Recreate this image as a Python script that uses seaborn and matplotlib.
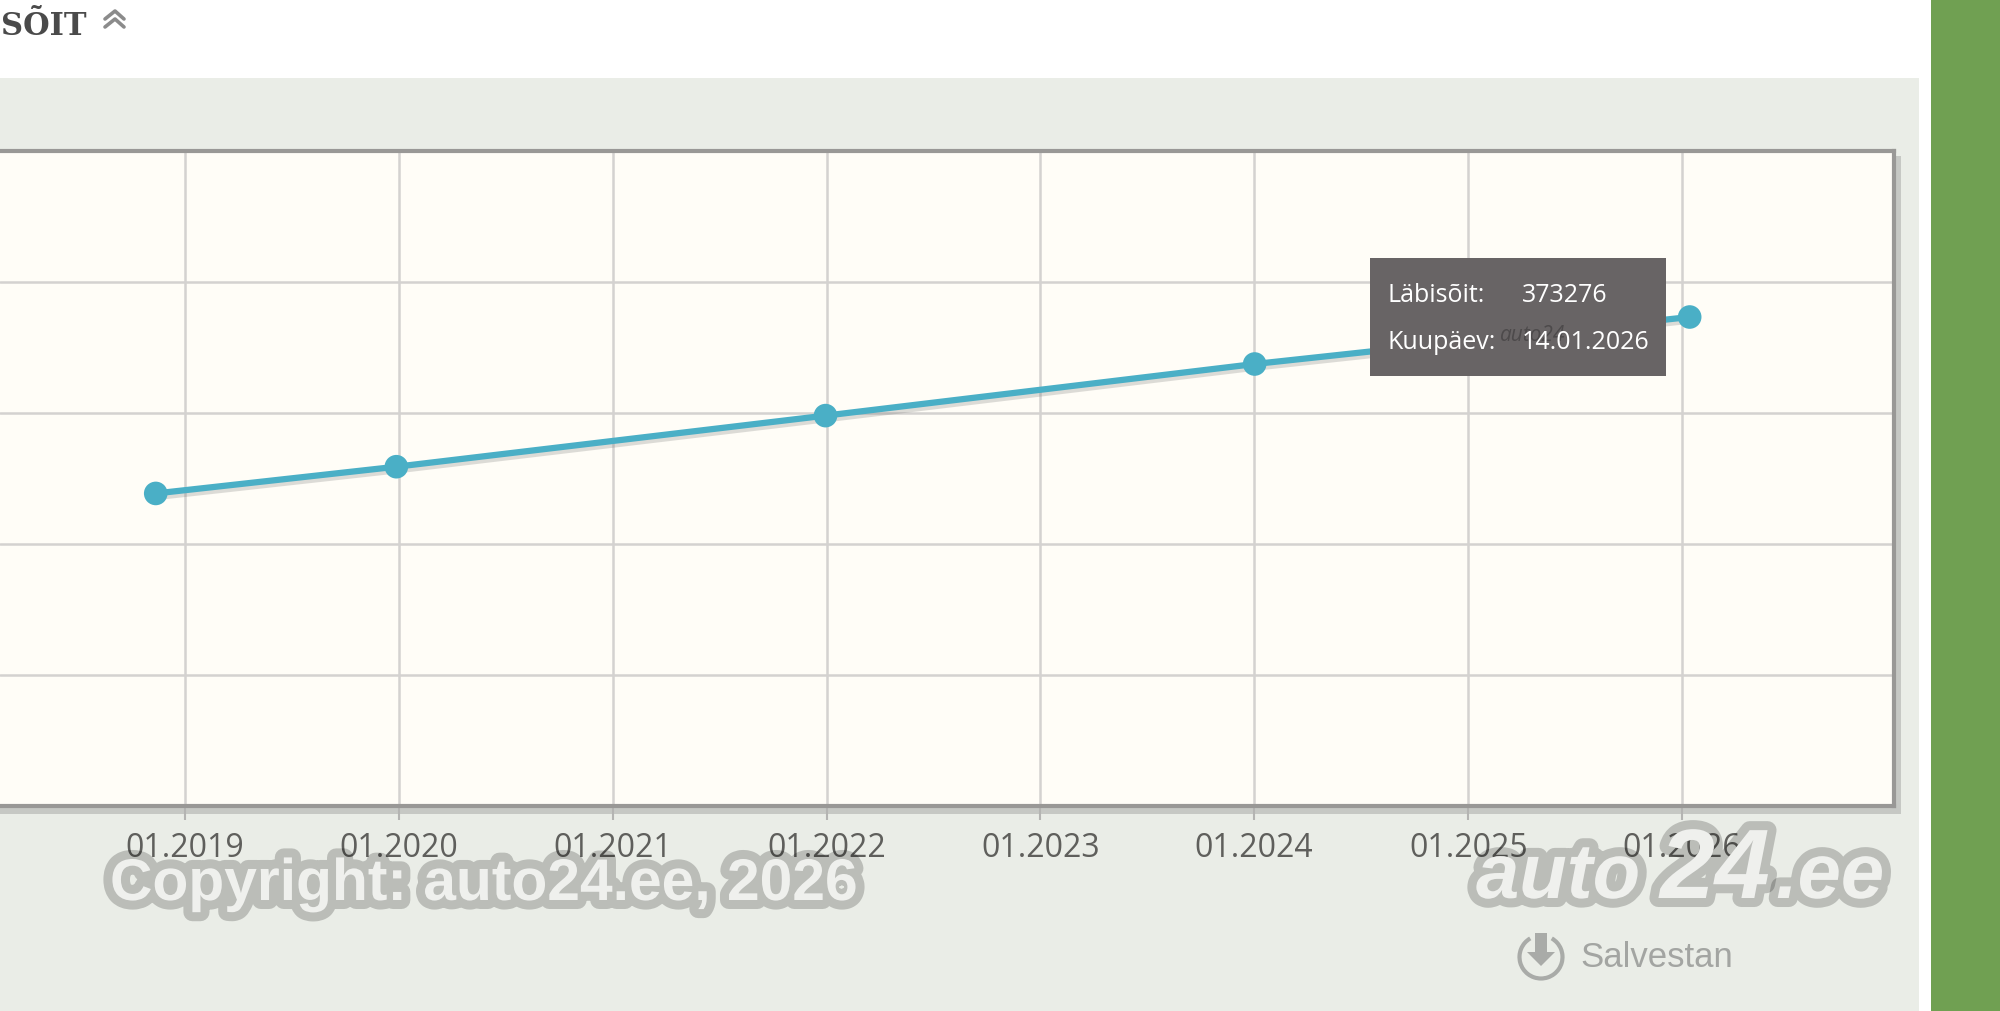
import pandas as pd
import numpy as np
import matplotlib
matplotlib.use("Agg")
import matplotlib.pyplot as plt
import matplotlib.dates as mdates
import matplotlib.patheffects as pe
from matplotlib.patches import Rectangle, Arc, Polygon
from matplotlib.lines import Line2D
from matplotlib.ticker import MultipleLocator
import seaborn as sns

# Values
dates = ["2018-11-12", "2019-12-28", "2021-12-30", "2024-01-02", "2026-01-14"]
mileage = [238600, 259000, 298000, 337400, 373276]
tick_years = [2018, 2019, 2020, 2021, 2022, 2023, 2024, 2025, 2026, 2027]
tick_labels = ["01." + str(y) for y in tick_years]

W, H = 2000, 1011
df = pd.DataFrame({"date": pd.to_datetime(dates), "mileage": mileage})

sns.set_theme(style="white")
plt.rcParams["font.family"] = ["Open Sans", "DejaVu Sans"]

fig = plt.figure(figsize=(W / 100, H / 100), dpi=100, facecolor="white")


# pixel positions (y from the top) for everything around the chart
def rect(x0, y0, x1, y1, color, z, alpha=1.0):
    fig.add_artist(Rectangle((x0 / W, 1 - y1 / H), (x1 - x0) / W, (y1 - y0) / H,
                             transform=fig.transFigure, facecolor=color,
                             edgecolor="none", zorder=z, alpha=alpha))


def label(x, y, s, **kw):
    return fig.text(x / W, 1 - y / H, s, va="baseline", **kw)


rect(0, 78, 1919, H, "#eaede7", -3)
# soft shadow of the plot frame
rect(1895, 156, 1901, 814, "#c6c8c4", -2)
rect(0, 807, 1901, 814, "#c6c8c4", -2)

ax = fig.add_axes([0, 1 - 806 / H, 1894 / W, (806 - 151) / H], facecolor="#fffdf7")
sns.lineplot(data=df, x="date", y="mileage", ax=ax, color="#4aafc6", linewidth=4.5,
             marker="o", markersize=17, markeredgewidth=0, estimator=None,
             path_effects=[pe.SimpleLineShadow(offset=(1.5, -2.5), shadow_color="#777777", alpha=0.25),
                           pe.Normal()])

ax.set_ylim(0, 500000)
ax.yaxis.set_major_locator(MultipleLocator(100000))
ax.set_xticks([mdates.date2num(pd.Timestamp(y, 1, 1)) for y in tick_years])
ax.set_xticklabels(tick_labels, fontsize=23, color="#5f5f5c")
# limits after the ticks, otherwise the ticks widen them
ax.set_xlim(mdates.date2num(pd.Timestamp("2018-02-19")), mdates.date2num(pd.Timestamp("2026-12-29")))
ax.tick_params(axis="x", bottom=True, length=10, width=1.5, color="#b4b4b2", pad=9)
ax.tick_params(axis="y", left=False, labelleft=False)
ax.set_xlabel("")
ax.set_ylabel("")
ax.grid(True, color="#d4d2d0", linewidth=1.8)
ax.set_axisbelow(True)
for s in ax.spines.values():
    s.set_color("#999896")
    s.set_linewidth(3)
ax.spines["left"].set_visible(False)

# page around the chart, also cuts the last tick label at the panel edge
rect(1919, 0, 1931, H, "white", 2)
rect(1931, 0, W, H, "#70a052", 2)

# heading cut by the left edge
label(87, 35, "LÄBISÕIT", ha="right", fontsize=22, fontweight="bold",
      family="DejaVu Serif", color="#4a4a4a")
for top in (11, 19):
    fig.add_artist(Line2D([105 / W, 115 / W, 124 / W],
                          [1 - (top + 8) / H, 1 - top / H, 1 - (top + 8) / H],
                          color="#8b8b8b", linewidth=2.6))

# watermarks
halo = [pe.withStroke(linewidth=13, foreground=(0, 0, 0, 0.2))]
label(110, 900, "Copyright: auto24.ee, 2026", ha="left", fontsize=42.3, fontweight="bold",
      family="Liberation Sans", color="#eff0ed", path_effects=halo, zorder=3)
for x, s, size in [(1476, "auto", 56), (1660, "24", 71), (1776, ".ee", 56)]:
    label(x, 898, s, ha="left", fontsize=size, fontweight="bold", style="italic",
          family="Liberation Sans", color="#eff0ed", path_effects=halo, zorder=3)

# save button
label(1580, 967, "Salvestan", ha="left", fontsize=25, family="Liberation Sans", color="#a3a5a2")
icon = fig.add_axes([0, 0, 1, 1], zorder=3)
icon.set_xlim(0, W)
icon.set_ylim(H, 0)
icon.axis("off")
icon.patch.set_alpha(0)
icon.add_patch(Arc((1541, 957), 43, 43, theta1=300, theta2=240, color="#a9aba8", linewidth=3))
icon.add_patch(Polygon([(1535, 933), (1547, 933), (1547, 952), (1555, 952), (1541, 966), (1527, 952), (1535, 952)],
                       facecolor="#a9aba8", edgecolor="none"))

# tooltip
rect(1370, 258, 1666, 376, "#686465", 6)
label(1500, 341, "auto24", ha="left", fontsize=15, style="italic", color="#4d4a4b", zorder=7)
label(1388, 302, "Läbisõit:", ha="left", fontsize=18, color="white", zorder=8)
label(1522, 302, "373276", ha="left", fontsize=18, color="white", zorder=8)
label(1388, 349, "Kuupäev:", ha="left", fontsize=18, color="white", zorder=8)
label(1522, 349, "14.01.2026", ha="left", fontsize=18, color="white", zorder=8)

fig.savefig("out.png", dpi=100, facecolor="white")
